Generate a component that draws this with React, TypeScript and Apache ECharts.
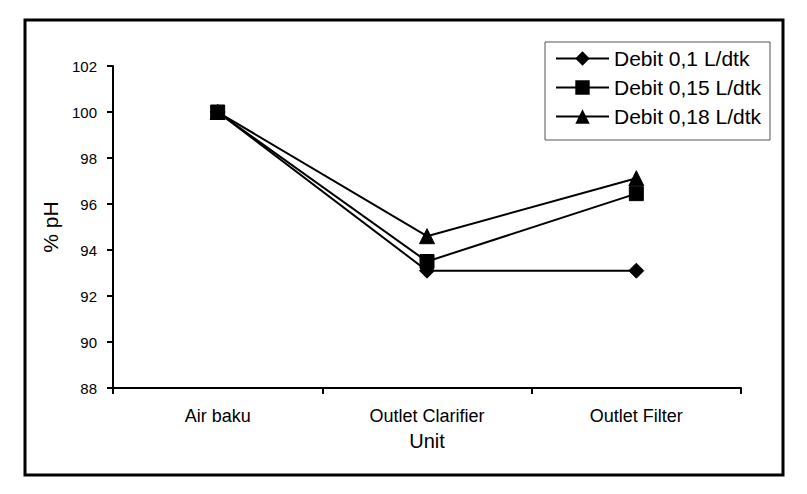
import React, { useEffect, useRef } from "react";
import * as echarts from "echarts";

const categories = ["Air baku", "Outlet Clarifier", "Outlet Filter"];
const seriesNames = ["Debit 0,1 L/dtk", "Debit 0,15 L/dtk", "Debit 0,18 L/dtk"];
const debit01 = [100, 93.1, 93.1];
const debit015 = [100, 93.5, 96.45];
const debit018 = [100, 94.6, 97.12];
const symbols = ["diamond", "rect", "triangle"];
const symbolSizes = [15, 14, 15];

const FONT = "'Liberation Sans', Arial, sans-serif";

export default function App() {
  const ref = useRef<HTMLDivElement>(null);
  useEffect(() => {
    if (!ref.current) return;
    const chart = echarts.init(ref.current, undefined, { renderer: "svg" });
    const dataSets = [debit01, debit015, debit018];
    chart.setOption({
      animation: false,
      backgroundColor: "#fff",
      textStyle: { fontFamily: FONT },
      grid: { left: 113, right: 66, top: 66, bottom: 106, containLabel: false },
      graphic: [
        {
          type: "rect",
          shape: { x: 25, y: 20, width: 758, height: 455 },
          style: { fill: "none", stroke: "#000", lineWidth: 3 },
          silent: true,
        },
        {
          type: "rect",
          shape: { x: 545, y: 42, width: 225, height: 98 },
          style: { fill: "#fff", stroke: "#555", lineWidth: 1 },
          silent: true,
          z: 0,
        },
      ],
      legend: {
        orient: "vertical",
        left: 555,
        top: 48,
        itemWidth: 53,
        itemHeight: 18,
        itemGap: 8,
        padding: 0,
        z: 10,
        textStyle: { fontSize: 21, lineHeight: 20, color: "#000", fontFamily: FONT },
        data: seriesNames,
      },
      xAxis: {
        type: "category",
        data: categories,
        boundaryGap: true,
        name: "Unit",
        nameLocation: "middle",
        nameGap: 43,
        nameTextStyle: { fontSize: 20, color: "#000", fontFamily: FONT },
        axisLine: { lineStyle: { color: "#000", width: 2 } },
        axisTick: { show: true, length: 6, lineStyle: { color: "#000", width: 2 } },
        axisLabel: { fontSize: 18, color: "#000", margin: 19, fontFamily: FONT },
        splitLine: { show: false },
      },
      yAxis: {
        type: "value",
        min: 88,
        max: 102,
        interval: 2,
        name: "% pH",
        nameLocation: "middle",
        nameGap: 47,
        nameRotate: 90,
        nameTextStyle: { fontSize: 21, color: "#000", fontFamily: FONT },
        axisLine: { show: true, lineStyle: { color: "#000", width: 2 } },
        axisTick: { show: true, length: 6, lineStyle: { color: "#000", width: 2 } },
        axisLabel: { fontSize: 15, color: "#000", margin: 16, fontFamily: FONT },
        splitLine: { show: false },
      },
      series: seriesNames.map((name, i) => ({
        name,
        type: "line",
        data: dataSets[i],
        symbol: symbols[i],
        symbolSize: symbolSizes[i],
        showAllSymbol: true,
        lineStyle: { color: "#000", width: 2 },
        itemStyle: { color: "#000", borderColor: "#000" },
        emphasis: { disabled: true },
      })),
    });
    return () => chart.dispose();
  }, []);
  return <div ref={ref} style={{ width: 807, height: 494, margin: -8 }} />;
}
